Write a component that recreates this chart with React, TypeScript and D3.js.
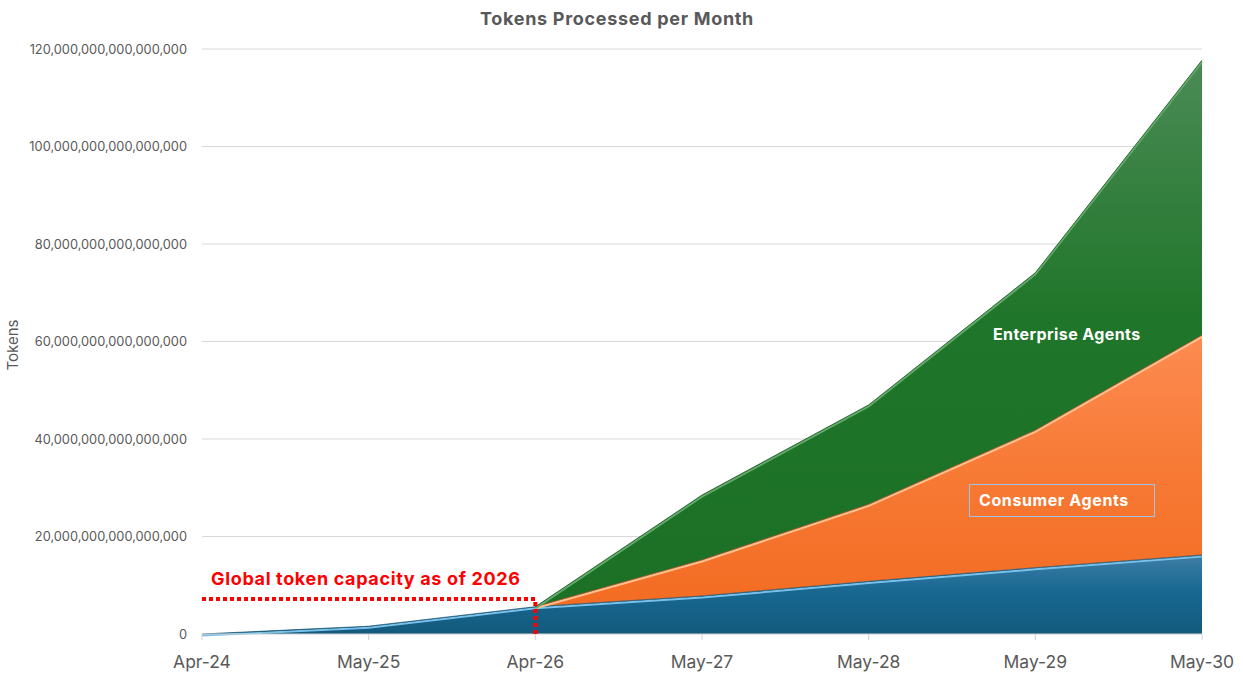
import React from "react";
import * as d3 from "d3";

const months = ["Apr-24", "May-25", "Apr-26", "May-27", "May-28", "May-29", "May-30"];
const baseline = [0, 1.6e15, 5.6e15, 7.8e15, 10.8e15, 13.6e15, 16.2e15];
const consumerAgents = [0, 0, 0, 7.4e15, 15.8e15, 28.2e15, 45.1e15];
const enterpriseAgents = [0, 0, 0, 13.3e15, 20.4e15, 32.3e15, 56.4e15];
const yTicks = [0, 20e15, 40e15, 60e15, 80e15, 100e15, 120e15];
const capacityValue = 7.2e15;
const capacityMonth = "Apr-26";

const W = 1243;
const H = 675;
const M = { left: 202, right: 41, top: 49, bottom: 41 };
const FONT = "Inter, 'Open Sans', sans-serif";

export default function App() {
  const x = d3.scalePoint<string>().domain(months).range([M.left, W - M.right]);
  const y = d3.scaleLinear().domain([0, 120e15]).range([H - M.bottom, M.top]);

  const rows = months.map((m, i) => ({
    month: m,
    base: baseline[i],
    consumer: consumerAgents[i],
    enterprise: enterpriseAgents[i],
  }));
  const keys = ["base", "consumer", "enterprise"];
  const stack = d3.stack<any>().keys(keys);
  const series = stack(rows);

  const area = d3
    .area<any>()
    .x((d) => x(d.data.month)!)
    .y0((d) => y(d[0]))
    .y1((d) => y(d[1]));

  const edge = (key: string) => {
    const vals = rows.map((r: any) => r[key] as number);
    const first = Math.max(0, vals.findIndex((v) => v > 0) - 1);
    return d3
      .line<any>()
      .defined((_d, i) => i >= first)
      .x((d) => x(d.data.month)!)
      .y((d) => y(d[1]));
  };

  const styles = [
    { id: "gBlue", stops: ["#3f7ea6", "#186892", "#135a7d"], hi: "#79c0ea", dark: "#0f4a66" },
    { id: "gOrange", stops: ["#fd8b52", "#f77a35", "#f2691f"], hi: "#ffc08f", dark: "#9c4a1c" },
    { id: "gGreen", stops: ["#4b8b56", "#1f7529", "#1b7026"], hi: "#62ab6b", dark: "#124d18" },
  ];

  const fmt = d3.format(",d");
  const x0 = x(months[0])!;
  const xCap = x(capacityMonth)!;
  const yCap = y(capacityValue);

  return (
    <div style={{ position: "absolute", left: 0, top: 0 }}>
      <svg width={W} height={H} style={{ display: "block", background: "#fff" }}>
        <defs>
          {styles.map((s) => (
            <linearGradient key={s.id} id={s.id} x1="0" y1="0" x2="0" y2="1">
              <stop offset="0" stopColor={s.stops[0]} />
              <stop offset="0.45" stopColor={s.stops[1]} />
              <stop offset="1" stopColor={s.stops[2]} />
            </linearGradient>
          ))}
        </defs>
        <text x={617} y={25} textAnchor="middle" fontFamily={FONT} fontWeight={700} fontSize={18} letterSpacing={0.7} fill="#595959">
          Tokens Processed per Month
        </text>
        {yTicks.map((t) => (
          <g key={t}>
            {t > 0 && <line x1={M.left} x2={W - M.right} y1={y(t)} y2={y(t)} stroke="#d9d9d9" strokeWidth={1} />}
            <text x={187} y={y(t) + 4.5} textAnchor="end" fontFamily={FONT} fontSize={12.8} fill="#595959">
              {fmt(t)}
            </text>
          </g>
        ))}
        <text
          transform={`translate(18,345) rotate(-90)`}
          textAnchor="middle"
          fontFamily={FONT}
          fontSize={15}
          fill="#595959"
        >
          Tokens
        </text>
        {series.map((s, i) => (
          <path key={s.key} d={area(s as any)!} fill={`url(#${styles[i].id})`} />
        ))}
        {series.map((s, i) => {
          const ln = edge(s.key);
          return (
            <g key={"e" + s.key}>
              <path d={ln(s as any)!} fill="none" stroke={styles[i].hi} strokeWidth={2} transform="translate(0,1.6)" />
              <path d={ln(s as any)!} fill="none" stroke={styles[i].dark} strokeWidth={1} strokeOpacity={0.7} />
            </g>
          );
        })}
        <line x1={M.left} x2={W - M.right} y1={y(0)} y2={y(0)} stroke="#d0d0d0" strokeWidth={1} />
        {months.map((m) => (
          <g key={m}>
            <line x1={x(m)} x2={x(m)} y1={y(0)} y2={y(0) + 6} stroke="#d0d0d0" />
            <text x={x(m)} y={668} textAnchor="middle" fontFamily={FONT} fontSize={17.5} fill="#595959">
              {m}
            </text>
          </g>
        ))}
        <line x1={x0} x2={xCap} y1={yCap} y2={yCap} stroke="#ff0000" strokeWidth={4} strokeDasharray="4 3" />
        <line x1={xCap} x2={xCap} y1={yCap + 3} y2={y(0)} stroke="#ff0000" strokeWidth={4} strokeDasharray="4 3" />
        <text x={211} y={585} fontFamily={FONT} fontWeight={700} fontSize={18} letterSpacing={0.65} fill="#ff0000">
          Global token capacity as of 2026
        </text>
        <text x={993} y={340} fontFamily={FONT} fontWeight={700} fontSize={16} letterSpacing={0.4} fill="#ffffff">
          Enterprise Agents
        </text>
        <rect x={969.5} y={484.5} width={185} height={32} fill="none" stroke="#9dc3e6" strokeWidth={1} />
        <text x={979} y={506} fontFamily={FONT} fontWeight={700} fontSize={16} letterSpacing={0.6} fill="#ffffff">
          Consumer Agents
        </text>
      </svg>
    </div>
  );
}
